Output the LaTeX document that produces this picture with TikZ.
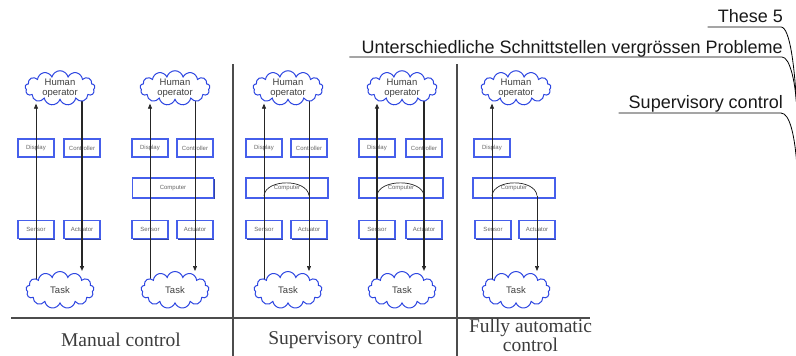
\documentclass[tikz,border=0pt]{standalone}
\usepackage{fontspec}
\setmainfont{Liberation Serif}
\setsansfont{Liberation Sans}
\usetikzlibrary{arrows.meta, shapes.symbols, shadows, calc}
\definecolor{boxBlue}{RGB}{70,95,235}
\definecolor{cloudBlue}{RGB}{45,70,225}
\definecolor{capGray}{RGB}{60,60,60}
\pgfdeclarelayer{back}
\pgfdeclarelayer{wires}
\pgfsetlayers{back,wires,main}

\begin{document}
\begin{tikzpicture}[x=1pt, y=-1pt,
  unit/.style={draw=boxBlue, line width=1.2pt, fill=white, minimum width=36pt,
    minimum height=18pt, inner sep=0pt, text=black!60,
    font=\sffamily\fontsize{6}{6}\selectfont,
    drop shadow={shadow xshift=1.2pt, shadow yshift=-1.2pt, fill=boxBlue!70!black, opacity=1}},
  puff/.style={cloud, cloud puffs=13, aspect=2.1, draw=cloudBlue, line width=1pt,
    fill=white, inner sep=0pt, align=center, text=black!75,
    font=\sffamily\fontsize{9.5}{9.5}\selectfont},
  sig/.style={draw=black!85, line width=0.7pt},
  heavy/.style={draw=black!85, line width=1.3pt},
  feed/.style={-{Triangle[length=5pt,width=4pt]}},
  rule/.style={draw=black!70, line width=1.3pt},
  caption/.style={inner sep=0pt, align=center, text=capGray,
    font=\fontsize{19.5}{16.5}\selectfont},
  crumb/.style={inner sep=0pt, text=black!90, font=\sffamily\fontsize{18}{18}\selectfont},
  edge/.style={draw=black, line width=0.8pt}]
  \useasboundingbox (0,0) rectangle (796,356);

  % Panel frame
  \draw[rule] (233,64) -- (233,356);
  \draw[rule] (457,64) -- (457,356);
  \draw[rule] (11,318) -- (590,318);

  \node[caption] (cm) at (121,340) {Manual control};
  \node[caption] (cs) at (345.5,340) {Supervisory control};
  \node[caption] (cf) at (530.5,335) {Fully automatic\\control};

  % Operator and task clouds
  \foreach \i/\x in {1/60,2/175,3/288,4/402,5/516} {
    \node[puff, minimum width=70pt, minimum height=33pt] (h\i) at (\x,88) {Human\\operator};
    \node[puff, minimum width=68pt, minimum height=37pt] (t\i) at (\x,290) {Task};
  }

  \begin{pgfonlayer}{back}
    % Display / controller / sensor / actuator
    \foreach \i/\l/\r in {1/36/82,2/150/195,3/264/309,4/377/424} {
      \node[unit] (d\i) at (\l,148) {Display};
      \node[unit] (k\i) at (\r,148) {Controller};
      \node[unit] (s\i) at (\l,229.5) {Sensor};
      \node[unit] (a\i) at (\r,229.5) {Actuator};
    }
    \node[unit] (d5) at (492,148) {Display};
    \node[unit] (s5) at (493,229.5) {Sensor};
    \node[unit] (a5) at (537,229.5) {Actuator};

    % Computers
    \node[unit, minimum width=81pt, minimum height=20pt] (c2) at (173,188) {Computer};
    \node[unit, minimum width=82pt, minimum height=20pt] (c3) at (287,188) {Computer};
    \node[unit, minimum width=84pt, minimum height=20pt] (c4) at (401,188) {Computer};
    \node[unit, minimum width=82pt, minimum height=20pt] (c5) at (514,188) {Computer};
  \end{pgfonlayer}

  \begin{pgfonlayer}{wires}
    % Manual control
    \draw[sig, feed, shorten >=3pt] (d1 |- t1.center) -- (d1 |- h1.south);
    \draw[heavy, feed] (k1 |- h1.center) -- (k1 |- t1.north);
    \draw[sig, feed, shorten >=3pt] (d2 |- t2.center) -- (d2 |- h2.south);
    \draw[sig, feed] (k2 |- h2.center) -- (k2 |- t2.north);

    % Supervisory control
    \draw[sig, feed, shorten >=3pt] (d3 |- t3.center) -- (d3 |- h3.south);
    \draw[sig, feed] (k3 |- h3.center) -- (k3 |- t3.north);
    \draw[sig] ($(d3 |- c3.south)+(0,-3)$) .. controls +(2,-17) and +(-2,-17) .. ($(k3 |- c3.south)+(0,-3)$);
    \draw[heavy, feed, shorten >=3pt] (d4 |- t4.center) -- (d4 |- h4.south);
    \draw[heavy, feed] (k4 |- h4.center) -- (k4 |- t4.north);
    \draw[sig] ($(d4 |- c4.south)+(0,-3)$) .. controls +(2,-17) and +(-2,-17) .. ($(k4 |- c4.south)+(0,-3)$);

    % Fully automatic control
    \draw[sig, feed, shorten >=3pt] (d5 |- t5.center) -- (d5 |- h5.south);
    \draw[sig] ($(d5 |- c5.south)+(0,-3)$) .. controls +(2,-17) and +(-2,-17) .. ($(a5 |- c5.south)+(0,-3)$);
    \draw[sig, feed] ($(a5 |- c5.south)+(0,-3)$) -- (a5 |- t5.north);
  \end{pgfonlayer}

  % Breadcrumb
  \node[crumb, anchor=base east] (n1) at (783,22) {These 5};
  \node[crumb, anchor=base east] (n2) at (783,53) {Unterschiedliche Schnittstellen vergrössen Probleme};
  \node[crumb, anchor=base east] (n3) at (783,108) {Supervisory control};
  \coordinate (e1) at (797,113);
  \coordinate (e2) at (797,167);
  \draw[edge] ($(n1.base west)+(-10,5)$) -- ($(n1.base east)+(-2,5)$) .. controls +(9,0) and +(-2,-45) .. (e1);
  \draw[edge] ($(n2.base west)+(-12,4)$) -- ($(n2.base east)+(-1,4)$) .. controls +(8,0) and +(-1,-30) .. (e1);
  \draw[edge] ($(n3.base west)+(-10,5)$) -- ($(n3.base east)+(-2,5)$) .. controls +(9,0) and +(-2,-30) .. (e2);
\end{tikzpicture}
\end{document}
